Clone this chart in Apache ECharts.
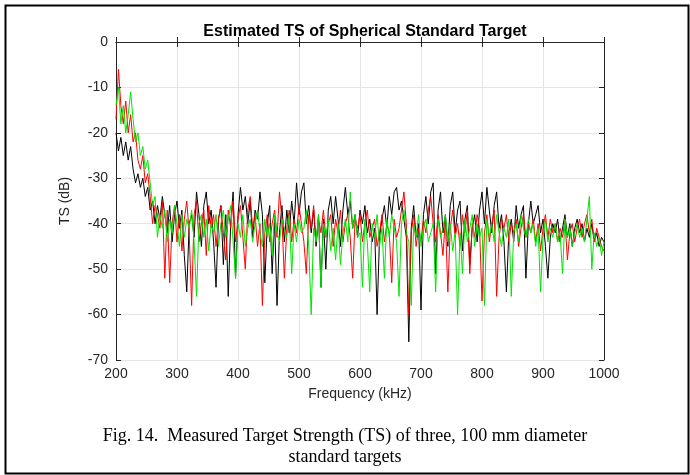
<!DOCTYPE html>
<html>
<head>
<meta charset="utf-8">
<script src="https://cdn.jsdelivr.net/npm/echarts@6/dist/echarts.min.js"></script>
<style>
  html, body { margin: 0; padding: 0; background: #fff; }
  #chart { width: 690px; height: 475px; }
</style>
</head>
<body>
<div id="chart"></div>
<script>
// frequency grid: 200..1000 kHz, one sample every 4 kHz
const freqStart = 200
const freqStep = 4

// TS (dB), rows of 10 samples = 40 kHz each
const tsBlack = [
  -20, -24, -21, -25, -22, -26, -23, -28, -31, -29,
  -32, -30, -34, -32, -37, -35, -40, -36, -39, -34,
  -38, -42, -36, -44, -38, -35, -41, -37, -47, -55,
  -40, -38, -43, -33, -38, -45, -36, -33, -40, -37,
  -44, -54, -39, -36, -49, -38, -56, -40, -33, -52,
  -38, -32, -37, -34, -40, -35, -43, -37, -39, -33,
  -38, -53, -40, -36, -51, -39, -58, -42, -36, -44,
  -37, -42, -35, -40, -31, -38, -33, -31, -40, -36,
  -42, -37, -45, -38, -54, -39, -50, -37, -34, -40,
  -34, -39, -45, -37, -32, -38, -35, -41, -38, -43,
  -37, -40, -36, -42, -39, -44, -41, -60, -43, -39,
  -36, -41, -34, -38, -33, -32, -37, -35, -39, -43,
  -66, -41, -36, -43, -40, -59, -38, -34, -40, -33,
  -31, -51, -37, -33, -42, -38, -45, -36, -33, -42,
  -37, -35, -46, -39, -36, -49, -41, -38, -44, -37,
  -33, -40, -32, -37, -42, -36, -33, -41, -38, -44,
  -55, -42, -39, -44, -36, -41, -38, -36, -52, -40,
  -35, -40, -38, -36, -42, -39, -45, -52, -43, -40,
  -42, -39, -44, -41, -38, -43, -40, -45, -41, -39,
  -42, -40, -44, -41, -43, -40, -44, -42, -45, -43,
  -44
]

const tsRed = [
  -17, -6, -14, -18, -13, -20, -16, -22, -20, -26,
  -28, -25, -31, -29, -34, -40, -36, -38, -41, -35,
  -52, -37, -53, -40, -36, -44, -38, -46, -39, -35,
  -42, -58, -38, -35, -44, -40, -37, -47, -36, -41,
  -38, -45, -39, -36, -42, -48, -37, -41, -35, -44,
  -39, -36, -43, -50, -37, -34, -41, -38, -45, -40,
  -58, -42, -38, -44, -40, -37, -43, -33, -39, -52,
  -41, -37, -44, -39, -42, -36, -40, -44, -51, -38,
  -41, -36, -44, -39, -42, -37, -43, -40, -38, -45,
  -39, -42, -37, -44, -40, -38, -43, -52, -39, -41,
  -38, -44, -40, -37, -43, -41, -39, -45, -42, -38,
  -44, -40, -42, -53, -39, -43, -41, -37, -33, -40,
  -60, -42, -38, -45, -41, -44, -39, -42, -37, -34,
  -40, -44, -38, -42, -47, -39, -55, -41, -37, -43,
  -40, -45, -38, -42, -37, -51, -40, -43, -38, -41,
  -57, -42, -38, -44, -40, -37, -56, -43, -39, -41,
  -38, -44, -40, -42, -39, -45, -41, -38, -43, -40,
  -42, -39, -44, -40, -46, -41, -38, -43, -39, -42,
  -40, -44, -41, -43, -39, -48, -42, -40, -44, -41,
  -39, -43, -40, -38, -42, -39, -44, -41, -43, -45,
  -46
]

const tsGreen = [
  -14, -10, -18, -14, -20, -16, -11, -17, -22, -20,
  -25, -23, -28, -26, -31, -36, -34, -43, -38, -41,
  -37, -44, -39, -42, -36, -40, -45, -38, -43, -39,
  -41, -37, -44, -56, -40, -38, -43, -39, -46, -40,
  -42, -38, -45, -40, -37, -43, -39, -36, -44, -52,
  -40, -43, -38, -45, -41, -39, -44, -40, -37, -42,
  -45, -39, -43, -40, -47, -38, -42, -44, -39, -41,
  -43, -38, -51, -40, -44, -39, -42, -41, -37, -45,
  -60, -41, -44, -38, -54, -40, -43, -39, -46, -41,
  -48, -40, -49, -42, -39, -44, -33, -41, -38, -43,
  -42, -54, -39, -44, -55, -40, -43, -38, -45, -41,
  -52, -39, -43, -38, -41, -44, -56, -40, -37, -42,
  -44, -58, -40, -43, -38, -45, -41, -39, -44, -42,
  -40, -55, -39, -43, -41, -38, -44, -40, -46, -42,
  -60, -42, -51, -39, -44, -41, -38, -45, -40, -43,
  -41, -58, -39, -43, -40, -44, -38, -42, -45, -41,
  -43, -39, -56, -42, -40, -44, -38, -41, -43, -39,
  -42, -40, -45, -41, -55, -43, -39, -44, -41, -43,
  -40, -44, -42, -51, -39, -43, -41, -45, -42, -40,
  -43, -41, -44, -39, -34, -50, -42, -45, -43, -47,
  -44
]

const xTicks = [200, 300, 400, 500, 600, 700, 800, 900, 1000]
const yTicks = [0, -10, -20, -30, -40, -50, -60, -70]

const toPairs = vals => vals.map((v, i) => [freqStart + i * freqStep, v])

const chart = echarts.init(document.getElementById('chart'), null, { renderer: 'canvas' })

const axisColor = '#262626'
const gridColor = '#e4e4e4'
const labelFont = { color: '#262626', fontSize: 14, fontFamily: 'Liberation Sans' }

chart.setOption({
  animation: false,
  backgroundColor: '#fff',
  title: {
    text: 'Estimated TS of Spherical Standard Target',
    left: 360, top: 19, textAlign: 'center',
    textStyle: { fontSize: 16, fontWeight: 'bold', color: '#000', fontFamily: 'Liberation Sans' }
  },
  graphic: [
    {
      type: 'rect', left: 3, top: 3, silent: true,
      shape: { width: 683, height: 468 },
      style: { fill: 'none', stroke: '#000', lineWidth: 2 }
    },
    {
      type: 'text', x: 345, y: 426,
      style: {
        text: 'Fig. 14.  Measured Target Strength (TS) of three, 100 mm diameter\nstandard targets',
        align: 'center', verticalAlign: 'top', fill: '#000', fontSize: 18, lineHeight: 21,
        fontFamily: 'Liberation Serif'
      }
    }
  ],
  grid: { left: 116, right: 86, top: 42, bottom: 115 },
  xAxis: [
    {
      type: 'value', min: 200, max: 1000, interval: 100,
      name: 'Frequency (kHz)', nameLocation: 'middle', nameGap: 27,
      nameTextStyle: labelFont,
      axisLine: { lineStyle: { color: axisColor, width: 1 } },
      axisTick: { inside: true, length: 5, lineStyle: { color: axisColor } },
      axisLabel: Object.assign({ margin: 7, customValues: xTicks, formatter: v => String(v) }, labelFont),
      splitLine: { show: true, lineStyle: { color: gridColor } }
    },
    {
      type: 'value', position: 'top', min: 200, max: 1000, interval: 100,
      axisLine: { lineStyle: { color: axisColor, width: 1 } },
      axisTick: { inside: true, length: 5, lineStyle: { color: axisColor } },
      axisLabel: { show: false },
      splitLine: { show: false }
    }
  ],
  yAxis: [
    {
      type: 'value', min: -70, max: 0, interval: 10,
      name: 'TS (dB)', nameLocation: 'middle', nameGap: 44,
      nameTextStyle: labelFont,
      axisLine: { show: true, lineStyle: { color: axisColor, width: 1 } },
      axisTick: { show: true, inside: true, length: 5, lineStyle: { color: axisColor } },
      axisLabel: Object.assign({ margin: 8, customValues: yTicks }, labelFont),
      splitLine: { show: true, lineStyle: { color: gridColor } }
    },
    {
      type: 'value', position: 'right', min: -70, max: 0, interval: 10,
      axisLine: { show: true, lineStyle: { color: axisColor, width: 1 } },
      axisTick: { show: true, inside: true, length: 5, lineStyle: { color: axisColor } },
      axisLabel: { show: false },
      splitLine: { show: false }
    }
  ],
  series: [
    {
      name: 'Target 1', type: 'line', data: toPairs(tsBlack),
      showSymbol: false, lineStyle: { color: '#000', width: 1 }, itemStyle: { color: '#000' }
    },
    {
      name: 'Target 2', type: 'line', data: toPairs(tsRed),
      showSymbol: false, lineStyle: { color: '#ff0000', width: 1 }, itemStyle: { color: '#ff0000' }
    },
    {
      name: 'Target 3', type: 'line', data: toPairs(tsGreen),
      showSymbol: false, lineStyle: { color: '#00e600', width: 1 }, itemStyle: { color: '#00e600' }
    }
  ]
})
</script>
</body>
</html>
